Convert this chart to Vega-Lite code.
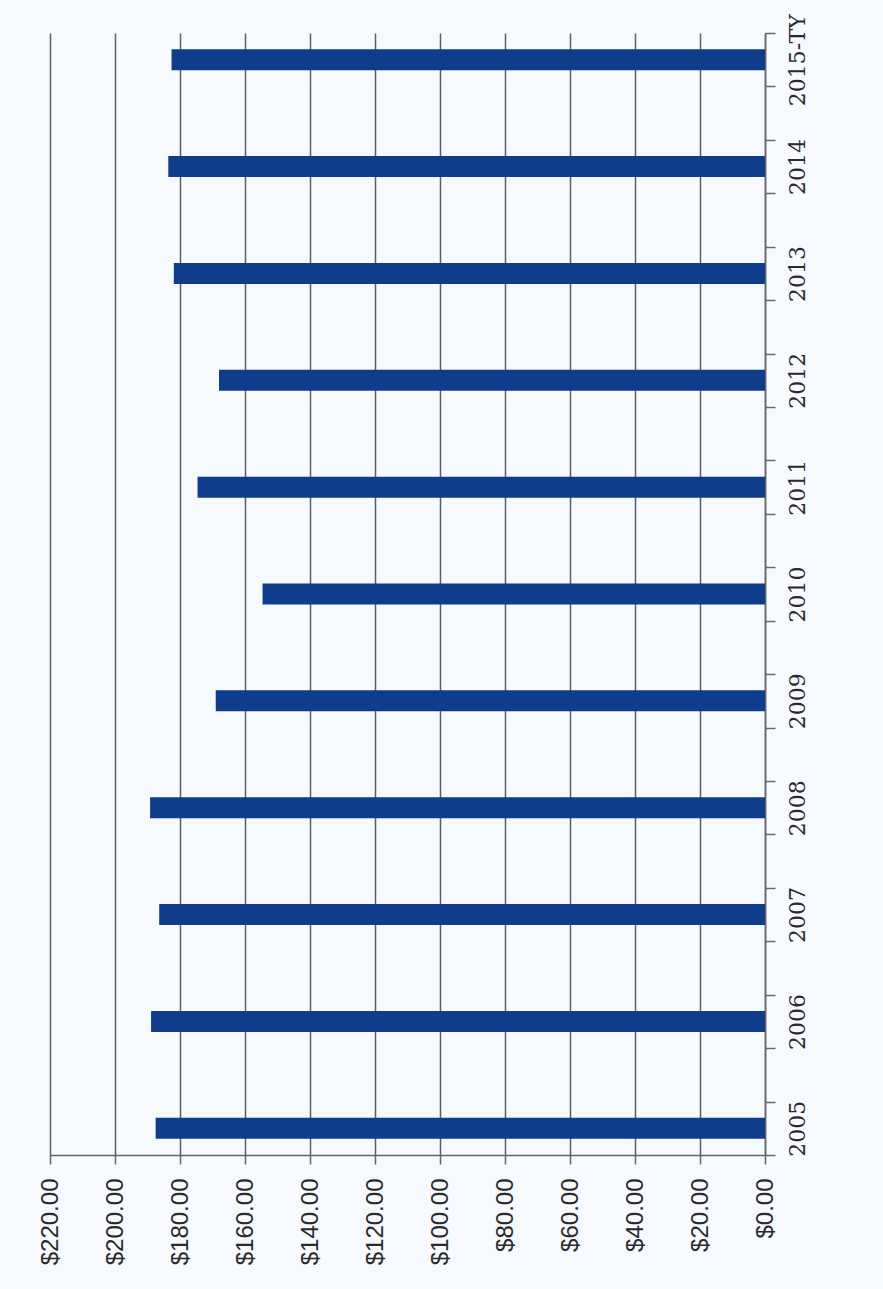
{
  "$schema": "https://vega.github.io/schema/vega-lite/v6.json",
  "autosize": {"type": "none"},
  "width": 715,
  "height": 1122,
  "padding": {"left": 50, "top": 33, "right": 118, "bottom": 134},
  "background": "#f6f9fd",
  "config": {"view": {"strokeWidth": 0}},
  "data": {
    "values": [
      {"year": "2005", "value": 187.5},
      {"year": "2006", "value": 188.9},
      {"year": "2007", "value": 186.4},
      {"year": "2008", "value": 189.2},
      {"year": "2009", "value": 169.0},
      {"year": "2010", "value": 154.6},
      {"year": "2011", "value": 174.6},
      {"year": "2012", "value": 168.0},
      {"year": "2013", "value": 181.9},
      {"year": "2014", "value": 183.6},
      {"year": "2015-TY", "value": 182.6}
    ]
  },
  "mark": {"type": "bar", "color": "#0f3d8c", "size": 21},
  "encoding": {
    "y": {
      "field": "year",
      "type": "nominal",
      "scale": {
        "domain": ["2015-TY", " ", "2014", "  ", "2013", "   ", "2012", "    ", "2011", "     ", "2010", "      ", "2009", "       ", "2008", "        ", "2007", "         ", "2006", "          ", "2005"],
        "paddingInner": 0,
        "paddingOuter": 0
      },
      "axis": {
        "orient": "right",
        "title": null,
        "tickBand": "extent",
        "tickSize": 10,
        "tickColor": "#666666",
        "tickWidth": 1.5,
        "domainColor": "#666666",
        "domainWidth": 1.5,
        "labelAngle": 270,
        "labelAlign": "center",
        "labelPadding": 12,
        "labelFont": "DejaVu Serif",
        "labelFontSize": 22,
        "labelColor": "#2a2a2a",
        "grid": false
      }
    },
    "x": {
      "field": "value",
      "type": "quantitative",
      "scale": {"domain": [0, 220], "reverse": true, "nice": false},
      "axis": {
        "orient": "bottom",
        "title": null,
        "values": [0, 20, 40, 60, 80, 100, 120, 140, 160, 180, 200, 220],
        "format": "$,.2f",
        "grid": true,
        "gridColor": "#5e5e5e",
        "gridWidth": 1.5,
        "tickSize": 9,
        "tickColor": "#666666",
        "tickWidth": 1.5,
        "domainColor": "#666666",
        "domainWidth": 1.5,
        "labelAngle": 270,
        "labelAlign": "right",
        "labelBaseline": "middle",
        "labelPadding": 14,
        "labelFont": "Liberation Sans",
        "labelFontSize": 24,
        "labelColor": "#2a2a2a"
      }
    }
  }
}
